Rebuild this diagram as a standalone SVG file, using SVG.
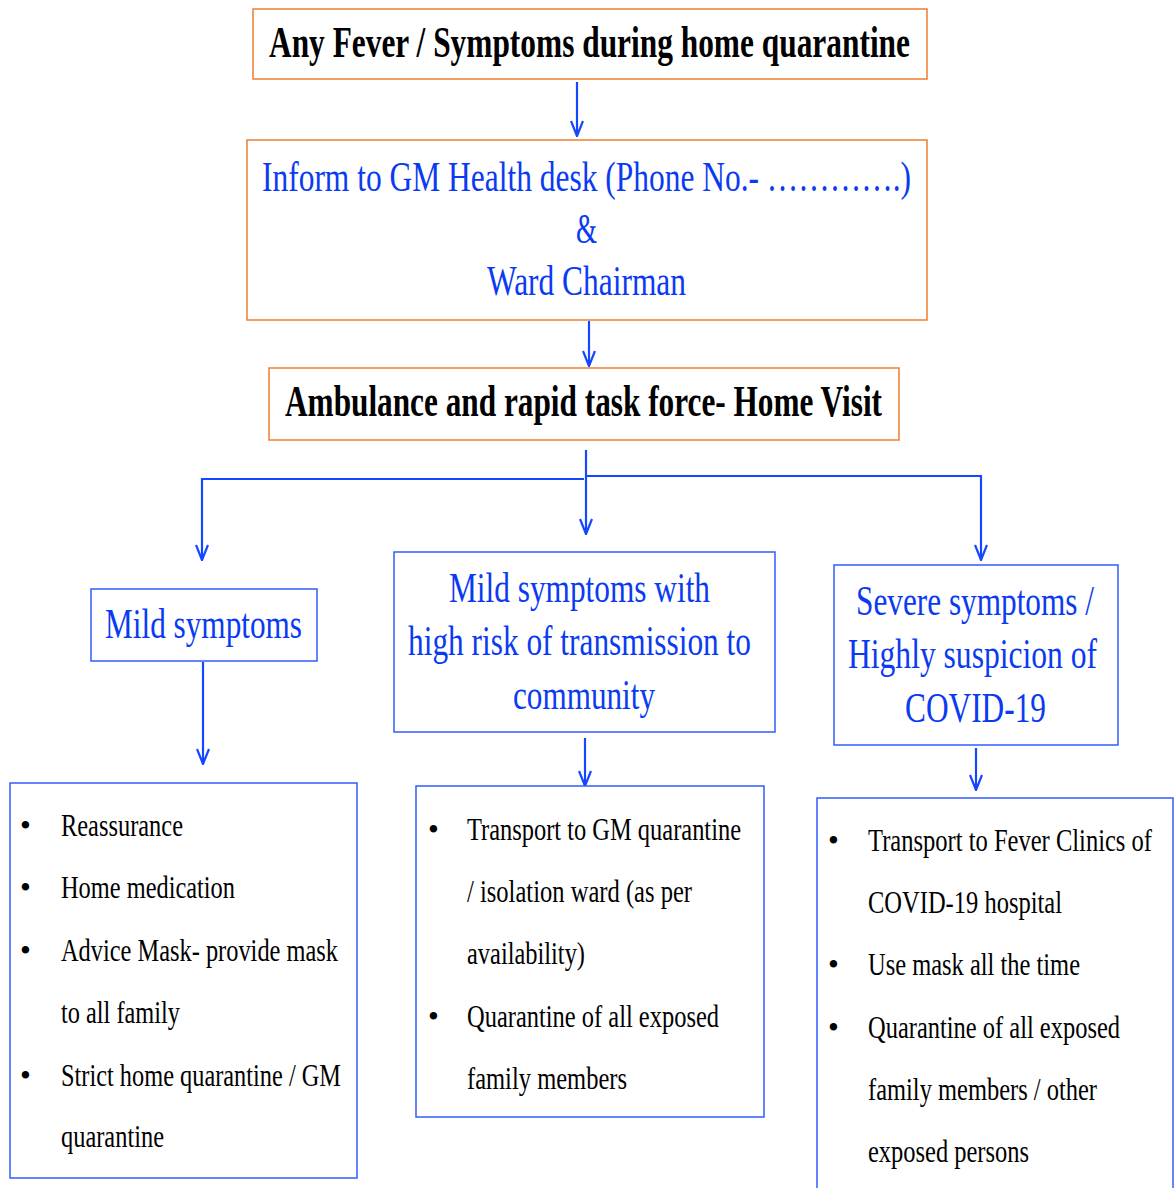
<svg xmlns="http://www.w3.org/2000/svg" width="1175" height="1188" viewBox="0 0 1175 1188">
<style>
.bg{fill:#fff}
.ob{fill:#fff;stroke:#ED7D31;stroke-width:1.5}
.bb{fill:#fff;stroke:#2F5CFF;stroke-width:1.5}
text{font-family:'Liberation Serif','DejaVu Serif',serif}
.hb{font-size:44px;font-weight:bold;fill:#000}
.hl{font-size:43px;fill:#0A3BF2}
.bl{font-size:31px;fill:#000}
.c{stroke:#1447FF;stroke-width:2.2;fill:none}
</style>
<defs>
<marker id="ah" viewBox="0 0 18 14" refX="17" refY="7" markerWidth="18" markerHeight="14" markerUnits="userSpaceOnUse" orient="auto">
<path d="M2,1 L17,7 L2,13" fill="none" stroke="#1447FF" stroke-width="2.2"/>
</marker>
</defs>
<rect class="bg" x="0" y="0" width="1175" height="1188"/>
<g id="connectors">
<line class="c" x1="577" y1="82" x2="577" y2="136" marker-end="url(#ah)"/>
<line class="c" x1="589" y1="321" x2="589" y2="366" marker-end="url(#ah)"/>
<line class="c" x1="586" y1="450" x2="586" y2="534" marker-end="url(#ah)"/>
<polyline class="c" points="584,479 202,479 202,560" marker-end="url(#ah)"/>
<polyline class="c" points="586,476 981,476 981,560" marker-end="url(#ah)"/>
<line class="c" x1="203" y1="662" x2="203" y2="764" marker-end="url(#ah)"/>
<line class="c" x1="585" y1="738" x2="585" y2="786" marker-end="url(#ah)"/>
<line class="c" x1="976" y1="748" x2="976" y2="790" marker-end="url(#ah)"/>
</g>
<g id="n1">
<rect class="ob" x="253" y="9" width="674" height="70"/>
<text class="hb" x="269" y="57" textLength="641" lengthAdjust="spacingAndGlyphs">Any Fever / Symptoms during home quarantine</text>
</g>
<g id="n2">
<rect class="ob" x="247" y="140" width="680" height="180"/>
<text class="hl" x="262" y="191" textLength="649" lengthAdjust="spacingAndGlyphs">Inform to GM Health desk (Phone No.- ………….)</text>
<text class="hl" x="576" y="243" textLength="21" lengthAdjust="spacingAndGlyphs">&amp;</text>
<text class="hl" x="487" y="295" textLength="199" lengthAdjust="spacingAndGlyphs">Ward Chairman</text>
</g>
<g id="n3">
<rect class="ob" x="269" y="368" width="630" height="72"/>
<text class="hb" x="285" y="416" textLength="597" lengthAdjust="spacingAndGlyphs">Ambulance and rapid task force- Home Visit</text>
</g>
<g id="n4">
<rect class="bb" x="91" y="589" width="226" height="72"/>
<text class="hl" x="105" y="638" textLength="197" lengthAdjust="spacingAndGlyphs">Mild symptoms</text>
</g>
<g id="n5">
<rect class="bb" x="394" y="552" width="381" height="180"/>
<text class="hl" x="449" y="602" textLength="261" lengthAdjust="spacingAndGlyphs">Mild symptoms with</text>
<text class="hl" x="408" y="655" textLength="343" lengthAdjust="spacingAndGlyphs">high risk of transmission to</text>
<text class="hl" x="513" y="709" textLength="142" lengthAdjust="spacingAndGlyphs">community</text>
</g>
<g id="n6">
<rect class="bb" x="834" y="565" width="284" height="180"/>
<text class="hl" x="856" y="615" textLength="238" lengthAdjust="spacingAndGlyphs">Severe symptoms /</text>
<text class="hl" x="848" y="668" textLength="249" lengthAdjust="spacingAndGlyphs">Highly suspicion of</text>
<text class="hl" x="905" y="722" textLength="141" lengthAdjust="spacingAndGlyphs">COVID-19</text>
</g>
<g id="n7">
<rect class="bb" x="10" y="783" width="347" height="395"/>
<text class="bl" x="20" y="836">•</text>
<text class="bl" x="61" y="836" textLength="122" lengthAdjust="spacingAndGlyphs">Reassurance</text>
<text class="bl" x="20" y="898">•</text>
<text class="bl" x="61" y="898" textLength="174" lengthAdjust="spacingAndGlyphs">Home medication</text>
<text class="bl" x="20" y="961">•</text>
<text class="bl" x="61" y="961" textLength="277" lengthAdjust="spacingAndGlyphs">Advice Mask- provide mask</text>
<text class="bl" x="61" y="1023" textLength="119" lengthAdjust="spacingAndGlyphs">to all family</text>
<text class="bl" x="20" y="1086">•</text>
<text class="bl" x="61" y="1086" textLength="280" lengthAdjust="spacingAndGlyphs">Strict home quarantine / GM</text>
<text class="bl" x="61" y="1147" textLength="103" lengthAdjust="spacingAndGlyphs">quarantine</text>
</g>
<g id="n8">
<rect class="bb" x="416" y="786" width="348" height="331"/>
<text class="bl" x="428" y="840">•</text>
<text class="bl" x="467" y="840" textLength="274" lengthAdjust="spacingAndGlyphs">Transport to GM quarantine</text>
<text class="bl" x="467" y="902" textLength="225" lengthAdjust="spacingAndGlyphs">/ isolation ward (as per</text>
<text class="bl" x="467" y="964" textLength="118" lengthAdjust="spacingAndGlyphs">availability)</text>
<text class="bl" x="428" y="1027">•</text>
<text class="bl" x="467" y="1027" textLength="252" lengthAdjust="spacingAndGlyphs">Quarantine of all exposed</text>
<text class="bl" x="467" y="1089" textLength="160" lengthAdjust="spacingAndGlyphs">family members</text>
</g>
<g id="n9">
<rect class="bb" x="817" y="798" width="356" height="400"/>
<text class="bl" x="828" y="851">•</text>
<text class="bl" x="868" y="851" textLength="284" lengthAdjust="spacingAndGlyphs">Transport to Fever Clinics of</text>
<text class="bl" x="868" y="913" textLength="194" lengthAdjust="spacingAndGlyphs">COVID-19 hospital</text>
<text class="bl" x="828" y="975">•</text>
<text class="bl" x="868" y="975" textLength="212" lengthAdjust="spacingAndGlyphs">Use mask all the time</text>
<text class="bl" x="828" y="1038">•</text>
<text class="bl" x="868" y="1038" textLength="252" lengthAdjust="spacingAndGlyphs">Quarantine of all exposed</text>
<text class="bl" x="868" y="1100" textLength="229" lengthAdjust="spacingAndGlyphs">family members / other</text>
<text class="bl" x="868" y="1162" textLength="161" lengthAdjust="spacingAndGlyphs">exposed persons</text>
</g>
</svg>
